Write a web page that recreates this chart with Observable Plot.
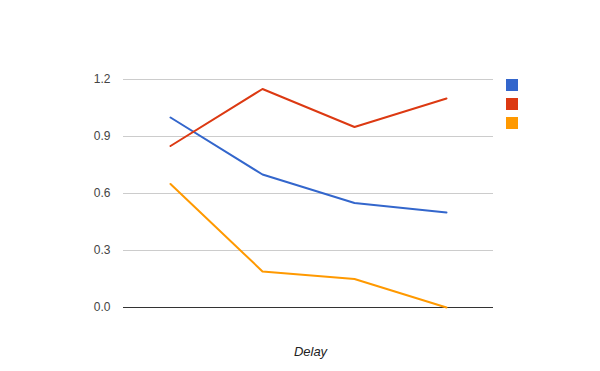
<!DOCTYPE html>
<html>
<head>
<meta charset="utf-8">
<script src="https://cdn.jsdelivr.net/npm/d3@7"></script>
<script src="https://cdn.jsdelivr.net/npm/@observablehq/plot@0.6"></script>
<style>
  html, body { margin: 0; padding: 0; background: #fff; }
  #wrap { position: relative; width: 600px; height: 371px; font-family: Arial, "Liberation Sans", sans-serif; }
  #legend { position: absolute; left: 506px; top: 79px; }
  .sw { width: 12px; height: 12px; margin-bottom: 7px; }
</style>
</head>
<body>
<div id="wrap"><div id="legend"></div></div>
<script>
const categories = ["1", "2", "3", "4"];
const seriesNames = ["A", "B", "C"];
const seriesColors = ["#3366cc", "#dc3912", "#ff9900"];
const seriesA = [1.0, 0.70, 0.55, 0.50];
const seriesB = [0.85, 1.15, 0.95, 1.10];
const seriesC = [0.65, 0.19, 0.15, 0.0];
const yTicks = [0, 0.3, 0.6, 0.9, 1.2];
const xTitle = "Delay";

const allSeries = [seriesA, seriesB, seriesC];
const data = [];
allSeries.forEach((vals, si) => {
  vals.forEach((v, i) => data.push({series: seriesNames[si], cat: categories[i], value: v}));
});

const chart = Plot.plot({
  width: 600,
  height: 371,
  marginLeft: 123,
  marginRight: 107,
  marginTop: 79,
  marginBottom: 64,
  style: {fontFamily: "Arial, 'Liberation Sans', sans-serif", fontSize: "12px", background: "transparent"},
  x: {type: "point", domain: categories, padding: 0.5, axis: null},
  y: {domain: [0, 1.2], axis: null},
  color: {domain: seriesNames, range: seriesColors},
  marks: [
    Plot.gridY(yTicks, {stroke: "#cccccc", strokeOpacity: 1}),
    Plot.axisY(yTicks, {tickSize: 0, tickPadding: 13, tickFormat: d3.format(".1f"), fill: "#444", label: null}),
    Plot.ruleY([0], {stroke: "#333", strokeWidth: 1}),
    Plot.line(data, {x: "cat", y: "value", z: "series", stroke: "series", strokeWidth: 2}),
    Plot.text([xTitle], {frameAnchor: "bottom", dy: 48, dx: 2, text: d => d, fontStyle: "italic", fontSize: 13, fill: "#222"})
  ]
});
const wrap = document.getElementById("wrap");
wrap.insertBefore(chart, wrap.firstChild);
const legend = document.getElementById("legend");
seriesColors.forEach(c => {
  const d = document.createElement("div");
  d.className = "sw";
  d.style.background = c;
  legend.appendChild(d);
});
</script>
</body>
</html>
